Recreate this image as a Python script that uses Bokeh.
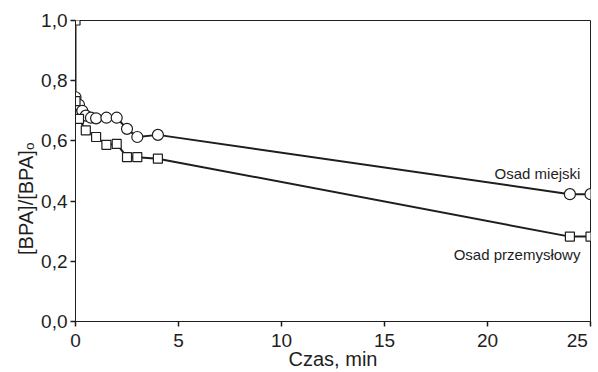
from bokeh.plotting import figure
from bokeh.models import Label, Range1d, FixedTicker, CustomJSTickFormatter
from bokeh.embed import file_html
from bokeh.resources import INLINE

# --- data ---
t_miejski = [0, 0.17, 0.33, 0.5, 0.75, 1.0, 1.5, 2.0, 2.5, 3.0, 4.0, 24, 25]
v_miejski = [0.745, 0.72, 0.70, 0.684, 0.677, 0.675, 0.677, 0.677, 0.64, 0.613, 0.62, 0.423, 0.423]

t_przem = [0, 0, 0.17, 0.5, 1.0, 1.5, 2.0, 2.5, 3.0, 4.0, 24, 25]
v_przem = [1.0, 0.732, 0.673, 0.635, 0.613, 0.587, 0.59, 0.546, 0.546, 0.541, 0.282, 0.282]

x_ticks = [0, 5, 10, 15, 20, 25]
y_ticks = [0.0, 0.2, 0.4, 0.6, 0.8, 1.0]

FONT = "Liberation Sans"
INK = "#1e1e1e"
NB = "\u00a0"

p = figure(width=598, height=372, output_backend="svg", toolbar_location=None,
           x_range=Range1d(0, 25), y_range=Range1d(0, 1),
           min_border_left=75, min_border_right=8, min_border_top=20, min_border_bottom=50)
p.grid.visible = False
p.background_fill_color = "white"
p.outline_line_color = INK
p.outline_line_width = 1

for ax in (p.xaxis[0], p.yaxis[0]):
    ax.axis_line_color = INK
    ax.major_tick_line_color = INK
    ax.major_tick_line_width = 1.5
    ax.major_tick_out = 5
    ax.major_tick_in = 0
    ax.minor_tick_line_color = None
    ax.major_label_text_font = FONT
    ax.major_label_text_font_size = "19px"
    ax.major_label_text_color = INK
    ax.axis_label_text_font = FONT
    ax.axis_label_text_font_size = "20px"
    ax.axis_label_text_font_style = "normal"
    ax.axis_label_text_color = INK

p.xaxis.ticker = FixedTicker(ticks=x_ticks)
p.yaxis.ticker = FixedTicker(ticks=y_ticks)
p.xaxis.formatter = CustomJSTickFormatter(code="return tick == 25 ? '25\\u00a0\\u00a0' : tick.toFixed(0);")
p.yaxis.formatter = CustomJSTickFormatter(code="return tick.toFixed(1).replace('.', ',');")
p.xaxis.major_label_standoff = 3
p.yaxis.major_label_standoff = 3
p.xaxis.axis_label = "Czas, min"
p.xaxis.axis_label_standoff = -6
p.yaxis.axis_label = "[BPA]/[BPA]\u2092" + NB * 10
p.yaxis.axis_label_standoff = 1

# series
p.line(t_przem, v_przem, line_color=INK, line_width=2)
p.line(t_miejski, v_miejski, line_color=INK, line_width=2)
p.scatter(t_miejski, v_miejski, marker="circle", size=11, fill_color="white",
          line_color=INK, line_width=1.2)
p.scatter(t_przem, v_przem, marker="square", size=9, fill_color="white",
          line_color=INK, line_width=1.2)

# series labels
p.add_layout(Label(x=24.51, y=0.4926, text="Osad miejski", text_align="right",
                   text_baseline="alphabetic", text_font=FONT, text_font_size="15px",
                   text_color=INK))
p.add_layout(Label(x=24.51, y=0.2215, text="Osad przemysłowy", text_align="right",
                   text_baseline="alphabetic", text_font=FONT, text_font_size="15px",
                   text_color=INK))

open("out.html", "w").write(file_html(p, INLINE))
